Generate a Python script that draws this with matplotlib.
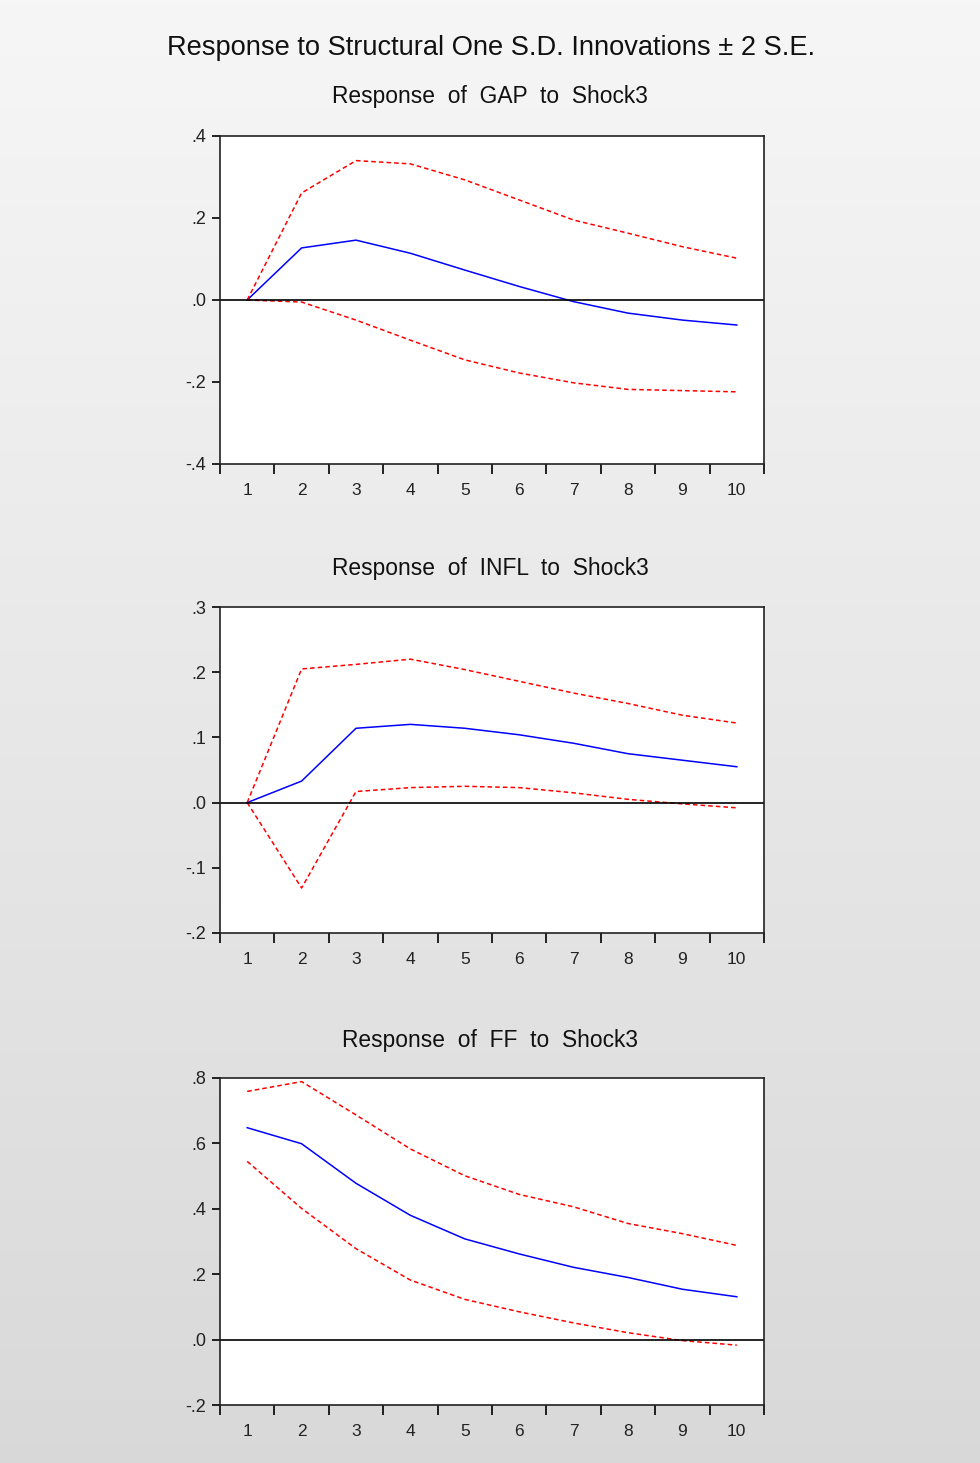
import numpy as np
import matplotlib.pyplot as plt

plt.rcParams['font.family'] = ['Liberation Sans', 'DejaVu Sans']

periods = np.arange(1, 11)
xtick_labels = [str(p) for p in periods]

gap_resp = [0.0, 0.127, 0.146, 0.114, 0.073, 0.033, -0.004, -0.032, -0.049, -0.061]
gap_upper = [0.0, 0.261, 0.340, 0.332, 0.293, 0.244, 0.195, 0.163, 0.130, 0.102]
gap_lower = [0.0, -0.005, -0.049, -0.098, -0.146, -0.178, -0.202, -0.218, -0.221, -0.224]

infl_resp = [0.0, 0.033, 0.114, 0.120, 0.114, 0.104, 0.091, 0.075, 0.065, 0.055]
infl_upper = [0.0, 0.205, 0.212, 0.220, 0.204, 0.186, 0.168, 0.152, 0.134, 0.122]
infl_lower = [0.0, -0.131, 0.017, 0.023, 0.025, 0.023, 0.015, 0.005, -0.002, -0.008]

ff_resp = [0.648, 0.599, 0.478, 0.380, 0.308, 0.262, 0.221, 0.190, 0.154, 0.131]
ff_upper = [0.759, 0.789, 0.687, 0.583, 0.501, 0.444, 0.406, 0.355, 0.324, 0.288]
ff_lower = [0.545, 0.401, 0.278, 0.182, 0.123, 0.085, 0.051, 0.021, -0.003, -0.017]

panels = [
    ("Response  of  GAP  to  Shock3", gap_resp, gap_upper, gap_lower,
     [-0.4, -0.2, 0.0, 0.2, 0.4], ['-.4', '-.2', '.0', '.2', '.4'], (-0.4, 0.4)),
    ("Response  of  INFL  to  Shock3", infl_resp, infl_upper, infl_lower,
     [-0.2, -0.1, 0.0, 0.1, 0.2, 0.3], ['-.2', '-.1', '.0', '.1', '.2', '.3'], (-0.2, 0.3)),
    ("Response  of  FF  to  Shock3", ff_resp, ff_upper, ff_lower,
     [-0.2, 0.0, 0.2, 0.4, 0.6, 0.8], ['-.2', '.0', '.2', '.4', '.6', '.8'], (-0.2, 0.8)),
]

W, H = 980, 1463
fig = plt.figure(figsize=(W / 100, H / 100), dpi=100)

# grey gradient background
bg = fig.add_axes([0, 0, 1, 1], zorder=-10)
grad = np.linspace(0.965, 0.85, 256).reshape(-1, 1)
bg.imshow(np.dstack([grad, grad, grad]), aspect='auto', extent=[0, 1, 0, 1])
bg.axis('off')

fig.text(491 / W, 1 - 48 / H, "Response to Structural One S.D. Innovations \u00b1 2 S.E.",
         ha='center', va='center', fontsize=19.6, color='#111111')

# axes boxes in pixels: (left, top, right, bottom)
boxes = [(220, 136, 764, 464), (220, 607, 764, 933), (220, 1078, 764, 1405)]
title_y = [97, 569, 1041]

for (title, resp, up, lo, yt, ytl, ylim), (l, t, r, b), ty in zip(panels, boxes, title_y):
    ax = fig.add_axes([l / W, 1 - b / H, (r - l) / W, (b - t) / H])
    ax.set_facecolor('white')
    ax.plot(periods, resp, color='#0000ff', lw=1.1)
    ax.plot(periods, up, color='#ff0000', lw=1.1, ls=(0, (3, 2)))
    ax.plot(periods, lo, color='#ff0000', lw=1.1, ls=(0, (3, 2)))
    ax.axhline(0, color='black', lw=1.2)
    ax.set_xlim(0.5, 10.5)
    ax.set_ylim(*ylim)
    ax.set_yticks(yt)
    ax.set_yticklabels(ytl)
    ax.set_xticks(periods)
    ax.set_xticklabels(xtick_labels)
    ax.set_xticks(np.arange(0.5, 11, 1), minor=True)
    ax.tick_params(axis='x', which='major', length=0, pad=14, labelsize=12.5, labelcolor='#222222')
    ax.tick_params(axis='x', which='minor', length=7, width=1.2, direction='out')
    ax.tick_params(axis='y', length=6, width=1.2, direction='out', pad=4, labelsize=13, labelcolor='#222222')
    for s in ax.spines.values():
        s.set_linewidth(1.2)
        s.set_color('#222222')
    fig.text(490 / W, 1 - ty / H, title, ha='center', va='center', fontsize=16.4, color='#111111')

fig.savefig('out.png', dpi=100)
